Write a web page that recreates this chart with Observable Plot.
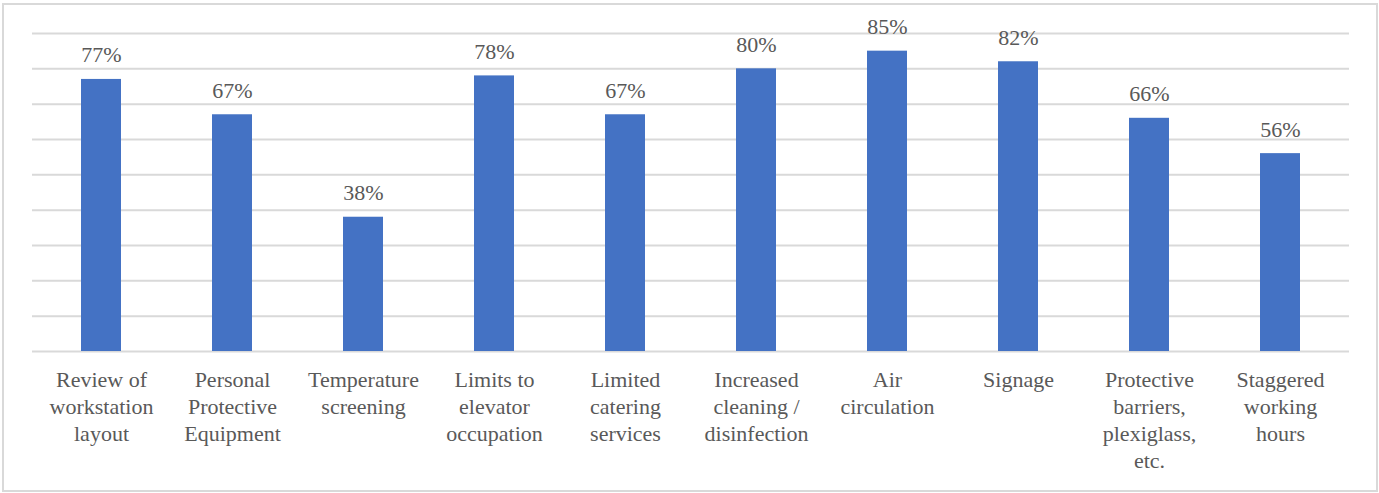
<!DOCTYPE html>
<html>
<head>
<meta charset="utf-8">
<script src="https://cdn.jsdelivr.net/npm/d3@7"></script>
<script src="https://cdn.jsdelivr.net/npm/@observablehq/plot@0.6"></script>
<style>
  html, body { margin: 0; padding: 0; background: #fff; }
  #wrap { position: relative; width: 1379px; height: 493px; }
  #frame {
    position: absolute; left: 2px; top: 3px; width: 1372px; height: 485px;
    border: 2px solid #d9d9d9; pointer-events: none;
  }
  svg { display: block; }
</style>
</head>
<body>
<div id="wrap"><div id="frame"></div></div>
<script>
// Share of respondents adopting each workplace measure
const categories = [
  "Review of\nworkstation\nlayout",
  "Personal\nProtective\nEquipment",
  "Temperature\nscreening",
  "Limits to\nelevator\noccupation",
  "Limited\ncatering\nservices",
  "Increased\ncleaning /\ndisinfection",
  "Air\ncirculation",
  "Signage",
  "Protective\nbarriers,\nplexiglass,\netc.",
  "Staggered\nworking\nhours"
];
const shares = [0.77, 0.67, 0.38, 0.78, 0.67, 0.80, 0.85, 0.82, 0.66, 0.56];
const gridTicks = [0, 0.1, 0.2, 0.3, 0.4, 0.5, 0.6, 0.7, 0.8, 0.9];

const rows = categories.map((c, i) => ({category: c, share: shares[i]}));
const pct = d3.format(".0%");
const serif = "Liberation Serif";

const chart = Plot.plot({
  width: 1379,
  height: 493,
  marginLeft: 32,
  marginRight: 30,
  marginTop: 33,
  marginBottom: 142,
  x: {domain: categories, paddingInner: 0.696, paddingOuter: 0.348, label: null},
  y: {domain: [0, 0.9], axis: null},
  marks: [
    Plot.ruleY(gridTicks, {stroke: "#d9d9d9", strokeWidth: 2}),
    Plot.barY(rows, {x: "category", y: "share", fill: "#4472c4"}),
    Plot.text(rows, {
      x: "category", y: "share", text: d => pct(d.share),
      lineAnchor: "bottom", dy: -17, fontSize: 22, fontFamily: serif, fill: "#595959"
    }),
    Plot.axisX({
      tickSize: 0, tickPadding: 16, fontSize: 22, fontFamily: serif, lineHeight: 1.23,
      fill: "#595959", label: null
    })
  ]
});
chart.style.setProperty("font-family", serif, "important");
d3.select(chart).selectAll("g, text, tspan")
  .attr("font-family", serif)
  .each(function () { this.style.setProperty("font-family", serif, "important"); });
document.getElementById("wrap").prepend(chart);
</script>
</body>
</html>
